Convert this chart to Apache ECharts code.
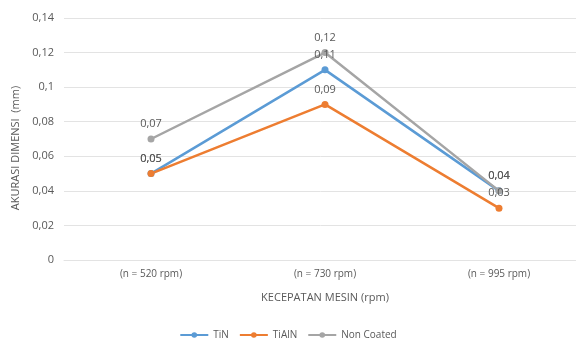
<!DOCTYPE html>
<html>
<head>
<meta charset="utf-8">
<script src="https://cdn.jsdelivr.net/npm/echarts@6/dist/echarts.min.js"></script>
<style>
  html, body { margin: 0; padding: 0; background: #fff; }
  #chart { width: 576px; height: 338px; }
</style>
</head>
<body>
<div id="chart"></div>
<script>
// data
const categories = ['(n = 520 rpm)', '(n = 730 rpm)', '(n = 995 rpm)']
const tin = [0.05, 0.11, 0.04]
const tialn = [0.05, 0.09, 0.03]
const nonCoated = [0.07, 0.12, 0.04]

const comma = v => String(v).replace('.', ',')
const font = 'Open Sans'
const textColor = '#595959'

const mkSeries = (name, data, color) => ({
    name: name,
    type: 'line',
    data: data,
    symbol: 'circle',
    symbolSize: 7,
    lineStyle: {width: 2.5, color: color},
    itemStyle: {color: color},
    label: {
        show: true,
        position: 'top',
        distance: 6,
        color: textColor,
        fontFamily: font,
        fontSize: 11,
        formatter: p => comma(p.value)
    }
})

let chart = echarts.init(document.getElementById('chart'))
let option = {
    animation: false,
    grid: {left: 64, top: 18, width: 522, height: 242, outerBoundsMode: 'none', containLabel: false},
    legend: {
        top: 325,
        left: 'center',
        itemWidth: 28,
        itemHeight: 7,
        itemGap: 10,
        textStyle: {color: textColor, fontFamily: font, fontSize: 10},
        data: ['TiN', 'TiAlN', 'Non Coated']
    },
    xAxis: {
        type: 'category',
        data: categories,
        boundaryGap: true,
        name: 'KECEPATAN MESIN (rpm)',
        nameLocation: 'middle',
        nameGap: 32,
        nameTextStyle: {color: textColor, fontFamily: font, fontSize: 11},
        axisLine: {lineStyle: {color: '#e3e3e3'}},
        axisTick: {show: false},
        axisLabel: {color: textColor, fontFamily: font, fontSize: 10, margin: 9}
    },
    yAxis: {
        type: 'value',
        min: 0,
        max: 0.14,
        interval: 0.02,
        name: 'AKURASI DIMENSI  (mm)',
        nameLocation: 'middle',
        nameGap: 40,
        nameTextStyle: {color: textColor, fontFamily: font, fontSize: 11, padding: [0, 18, 0, 0]},
        axisLine: {show: false},
        axisTick: {show: false},
        splitLine: {lineStyle: {color: '#e3e3e3', width: 1}},
        axisLabel: {color: textColor, fontFamily: font, fontSize: 11, margin: 10, formatter: v => comma(v)}
    },
    series: [
        mkSeries('TiN', tin, '#5B9BD5'),
        mkSeries('TiAlN', tialn, '#ED7D31'),
        mkSeries('Non Coated', nonCoated, '#A5A5A5')
    ]
}
chart.setOption(option)
</script>
</body>
</html>
